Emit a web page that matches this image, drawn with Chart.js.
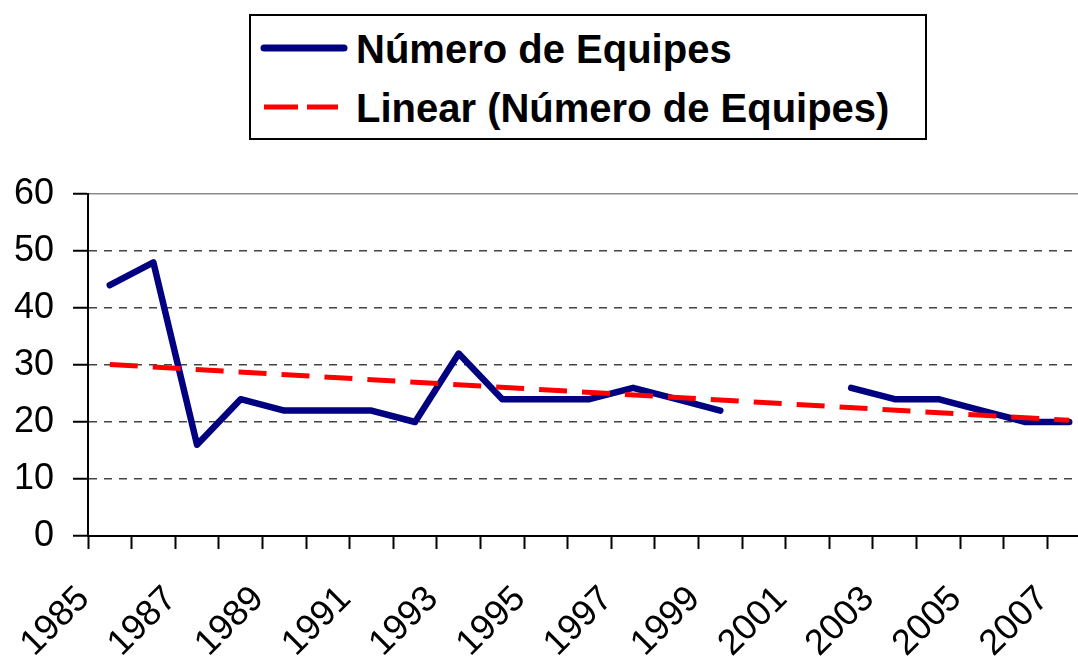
<!DOCTYPE html>
<html>
<head>
<meta charset="utf-8">
<script src="https://cdn.jsdelivr.net/npm/chart.js@4/dist/chart.umd.min.js"></script>
<style>
  html, body { margin: 0; padding: 0; background: #fff; overflow: hidden; }
  #wrap { position: relative; width: 1078px; height: 657px; overflow: hidden; }
  #chart { position: absolute; left: 0; top: 0; }
  #legend { position: absolute; left: 0; top: 0; }
  #legend text { font-family: "Liberation Sans", Arial, sans-serif; font-weight: bold; font-size: 40px; fill: #000; }
</style>
</head>
<body>
<div id="wrap">
  <canvas id="chart" width="1100" height="657"></canvas>
  <svg id="legend" width="1078" height="160"></svg>
</div>
<script>
// categories
const years = ["1985", "1986", "1987", "1988", "1989", "1990", "1991", "1992", "1993", "1994", "1995", "1996",
  "1997", "1998", "1999", "2000", "2001", "2002", "2003", "2004", "2005", "2006", "2007"];
// Número de Equipes (gap in 2000-2001)
const equipes = [44, 48, 16, 24, 22, 22, 22, 20, 32, 24, 24, 24,
  26, 24, 22, null, null, 26, 24, 24, 22, 20, 20];
// linear trend, read at its two ends
const trend = [30.1, null, null, null, null, null, null, null, null, null, null, null,
  null, null, null, null, null, null, null, null, null, null, 20.3];
const yTicks = [0, 10, 20, 30, 40, 50, 60];

const NAVY = "#000080";
const RED = "#ff0000";
const FONT = "'Liberation Sans', Arial, sans-serif";

const chart = new Chart(document.getElementById("chart"), {
  type: "line",
  data: {
    labels: years,
    datasets: [
      {
        label: "Número de Equipes",
        data: equipes,
        borderColor: NAVY,
        borderWidth: 6.5,
        borderCapStyle: "round",
        borderJoinStyle: "round",
        pointRadius: 0,
        tension: 0,
        spanGaps: false,
        order: 1,
      },
      {
        label: "Linear (Número de Equipes)",
        data: trend,
        borderColor: RED,
        borderWidth: 5,
        borderDash: [28, 15],
        pointRadius: 0,
        tension: 0,
        spanGaps: true,
        order: 0,
      },
    ],
  },
  options: {
    responsive: false,
    animation: false,
    layout: { padding: { top: 194, left: 0, right: 9, bottom: 0 } },
    plugins: { legend: { display: false }, tooltip: { enabled: false } },
    scales: {
      x: {
        type: "category",
        offset: true,
        afterFit: (s) => {
          s.height = 121;
          // rotated labels should not squeeze the plot sideways
          s.paddingLeft = 0;
          s.paddingRight = 0;
        },
        grid: {
          offset: true,
          drawOnChartArea: false,
          drawTicks: true,
          tickLength: 13,
          tickColor: "#000",
          tickWidth: 2,
        },
        border: { color: "#000", width: 2 },
        ticks: {
          autoSkip: false,
          minRotation: 45,
          maxRotation: 45,
          padding: 29,
          labelOffset: -26,
          color: "#000",
          font: { family: FONT, size: 36 },
          callback: (v, i) => (i % 2 ? "" : years[i]),
        },
      },
      y: {
        min: 0,
        max: 60,
        afterFit: (s) => { s.width = 88; },
        afterBuildTicks: (s) => { s.ticks = yTicks.map((v) => ({ value: v })); },
        grid: {
          color: (ctx) => (ctx.tick && ctx.tick.value === 60 ? "#8c8c8c" : "#444"),
          lineWidth: 1.5,
          tickLength: 15,
          tickColor: "#000",
          tickWidth: 2,
          tickBorderDash: [],
        },
        border: {
          color: "#000",
          width: 2,
          dash: (ctx) => (ctx.tick && ctx.tick.value !== 60 ? [8, 7] : []),
        },
        ticks: {
          padding: 19,
          color: "#000",
          font: { family: FONT, size: 36 },
        },
      },
    },
  },
});

// boxed legend, built from the dataset labels
const svg = document.getElementById("legend");
const ns = "http://www.w3.org/2000/svg";
function el(tag, attrs, text) {
  const e = document.createElementNS(ns, tag);
  for (const k in attrs) e.setAttribute(k, attrs[k]);
  if (text) e.textContent = text;
  svg.appendChild(e);
  return e;
}
el("rect", { x: 250, y: 15, width: 676, height: 124, fill: "#fff", stroke: "#000", "stroke-width": 2 });
const rows = [
  { y: 48, base: 63, ds: chart.data.datasets[0] },
  { y: 107, base: 122, ds: chart.data.datasets[1] },
];
rows.forEach((r) => {
  const dashed = r.ds.borderDash && r.ds.borderDash.length;
  el("line", {
    x1: 264, y1: r.y, x2: dashed ? 338 : 344, y2: r.y,
    stroke: r.ds.borderColor,
    "stroke-width": dashed ? 5 : 7,
    "stroke-linecap": dashed ? "butt" : "round",
    "stroke-dasharray": dashed ? "34 9" : "none",
  });
  el("text", { x: 356, y: r.base }, r.ds.label);
});
</script>
</body>
</html>
